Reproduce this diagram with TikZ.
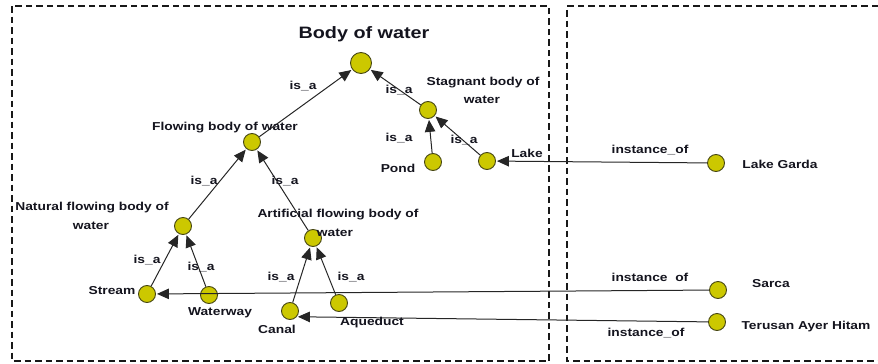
\documentclass[tikz,border=0pt]{standalone}
\usepackage{fontspec}
\setmainfont{Liberation Sans}[FakeStretch=1.2]
\usetikzlibrary{arrows.meta}
\definecolor{dotfill}{RGB}{204,200,0}
\definecolor{dotline}{RGB}{70,70,20}
\definecolor{txt}{RGB}{20,20,30}
\begin{document}
\begin{tikzpicture}[x=1pt,y=-1pt,
  dot/.style={circle,draw=dotline,fill=dotfill,line width=0.9pt,minimum size=17pt,inner sep=0pt},
  bigdot/.style={dot,minimum size=21pt},
  lbl/.style={inner sep=0pt,anchor=center,text=txt,font=\fontsize{11.5}{13.5}\selectfont\bfseries,align=center},
  rel/.style={draw=black!85,line width=1pt,shorten >=1pt,-{Triangle[length=12pt,width=10.5pt]}},
  boxline/.style={draw=black!90,line width=1.3pt,dash pattern=on 6.5pt off 4pt}]
\useasboundingbox (0,0) rectangle (878,364);
% dashed frames
\draw[boxline] (12,6) rectangle (549,361);
\draw[boxline] (878,6) -- (567,6) -- (567,361) -- (878,361);
% nodes
\node[bigdot] (root) at (361,63) {};
\node[dot] (flow) at (252,142) {};
\node[dot] (stag) at (428,110) {};
\node[dot] (pond) at (433,162) {};
\node[dot] (lake) at (487,161) {};
\node[dot] (nat) at (183,226) {};
\node[dot] (art) at (313,238) {};
\node[dot] (stream) at (147,294) {};
\node[dot] (wway) at (209,295) {};
\node[dot] (canal) at (290,311) {};
\node[dot] (aqu) at (339,303) {};
\node[dot] (garda) at (716,163) {};
\node[dot] (sarca) at (718,290) {};
\node[dot] (terus) at (717,322) {};
% edges
\draw[rel] (flow) -- (root);
\draw[rel] (stag) -- (root);
\draw[rel] (pond) -- (stag);
\draw[rel] (lake) -- (stag);
\draw[rel] (nat) -- (flow);
\draw[rel] (art) -- (flow);
\draw[rel] (stream) -- (nat);
\draw[rel] (wway) -- (nat);
\draw[rel] (canal) -- (art);
\draw[rel] (aqu) -- (art);
\draw[rel] (garda) -- (lake);
\draw[rel] (sarca) -- (stream);
\draw[rel] (terus) -- (canal.-40);
% labels
\node[lbl,font=\fontsize{16.5}{19}\selectfont\bfseries] (tRoot) at (364,34) {Body of water};
\node[lbl] (tFlow) at (225,128) {Flowing body of water};
\node[lbl] (tStag1) at (483,83) {Stagnant body of};
\node[lbl] (tStag2) at (482,100) {water};
\node[lbl] (tNat1) at (92,208) {Natural flowing body of};
\node[lbl] (tNat2) at (91,226) {water};
\node[lbl] (tArt1) at (338,215) {Artificial flowing body of};
\node[lbl] (tArt2) at (335,233) {water};
\node[lbl] (tPond) at (398,168) {Pond};
\node[lbl] (tLake) at (527,153) {Lake};
\node[lbl] (tStream) at (112,291) {Stream};
\node[lbl] (tWway) at (220,313) {Waterway};
\node[lbl] (tCanal) at (277,329) {Canal};
\node[lbl] (tAqu) at (372,323) {Aqueduct};
\node[lbl] (tGarda) at (780,164) {Lake Garda};
\node[lbl] (tSarca) at (771,284) {Sarca};
\node[lbl] (tTerus) at (806,327) {Terusan Ayer Hitam};
\node[lbl] (i1) at (303,86) {is\_a};
\node[lbl] (i2) at (399,90) {is\_a};
\node[lbl] (i3) at (399,138) {is\_a};
\node[lbl] (i4) at (464,140) {is\_a};
\node[lbl] (i5) at (204,181) {is\_a};
\node[lbl] (i6) at (285,181) {is\_a};
\node[lbl] (i7) at (147,260) {is\_a};
\node[lbl] (i8) at (201,267) {is\_a};
\node[lbl] (i9) at (281,277) {is\_a};
\node[lbl] (i10) at (351,277) {is\_a};
\node[lbl] (o1) at (650,150) {instance\_of};
\node[lbl] (o2) at (650,277) {instance\ \ of};
\node[lbl] (o3) at (646,333) {instance\_of};
\end{tikzpicture}
\end{document}
